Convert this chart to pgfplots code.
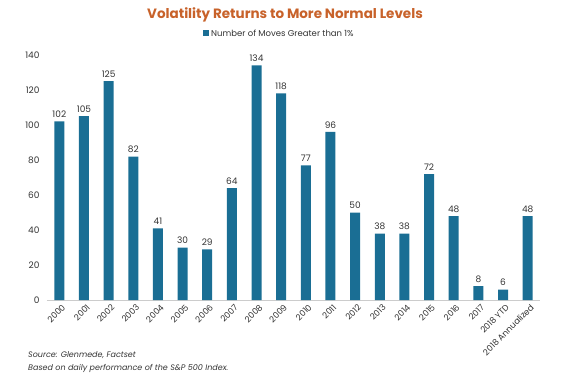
\documentclass[border=0pt]{standalone}
\usepackage{pgfplots}
\pgfplotsset{compat=1.18}
\usepackage{fontspec}
\setmainfont{Poppins}
\definecolor{barblue}{HTML}{1A6E94}
\definecolor{titleorange}{HTML}{C8622A}
\definecolor{txt}{HTML}{333333}
\begin{document}
\begin{tikzpicture}[x=1pt,y=1pt]
\path[use as bounding box] (0,0) rectangle (570,386);
\begin{axis}[
  at={(47pt,86pt)}, anchor=south west,
  scale only axis, width=493pt, height=245pt,
  xmin=-0.5, xmax=19.5, ymin=0, ymax=140,
  ytick={0,20,...,140},
  xtick={0,...,19},
  xticklabels={2000,2001,2002,2003,2004,2005,2006,2007,2008,2009,2010,2011,2012,2013,2014,2015,2016,2017,2018 YTD,2018 Annualized},
  x tick label style={rotate=45, anchor=north east, inner sep=1pt, yshift=-3pt, font=\fontsize{8.5}{9}\selectfont, text=txt},
  y tick label style={font=\fontsize{9}{10}\selectfont, text=txt},
  /pgf/number format/assume math mode=true,
  axis x line*=bottom, axis y line*=left,
  x axis line style={draw=gray!40},
  y axis line style={draw=none},
  major tick length=0pt,
  ybar, bar width=10pt,
  nodes near coords,
  nodes near coords style={font=\fontsize{9}{10}\selectfont, text=txt},
  clip=false,
  yticklabel style={xshift=-4pt},
]
\addplot[fill=barblue, draw=none] coordinates {
(0,102) (1,105) (2,125) (3,82) (4,41) (5,30) (6,29) (7,64) (8,134) (9,118)
(10,77) (11,96) (12,50) (13,38) (14,38) (15,72) (16,48) (17,8) (18,6) (19,48)};
\end{axis}
\node[font=\bfseries\fontsize{13.5}{15}\selectfont, text=titleorange] at (285,371) {Volatility Returns to More Normal Levels};
\fill[barblue] (203,349.5) rectangle (209,355.5);
\node[anchor=west, font=\fontsize{8.5}{10}\selectfont, text=txt, inner sep=0pt] at (211,352.5) {Number of Moves Greater than 1\%};
\node[anchor=west, font=\itshape\fontsize{8}{9}\selectfont, text=txt, inner sep=0pt] at (28,31) {Source: Glenmede, Factset};
\node[anchor=west, font=\itshape\fontsize{8}{9}\selectfont, text=txt, inner sep=0pt] at (28,18) {Based on daily performance of the S\&P 500 Index.};
\end{tikzpicture}
\end{document}
